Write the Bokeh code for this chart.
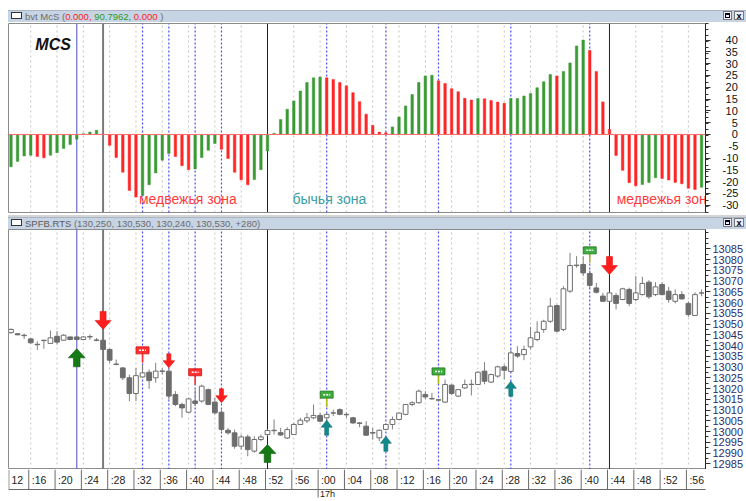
from bokeh.plotting import figure
from bokeh.layouts import column
from bokeh.models import Range1d, LinearAxis, FixedTicker, Span, Div
from bokeh.core.properties import value
from bokeh.embed import file_html
from bokeh.resources import INLINE

# ---------------- data ----------------
# MCS histogram, one value per 1-minute bar (bar 0 = 16:13)
mcs = [
    -13.7, -11.4, -9.1, -8.8, -9.3, -9.9, -8.8, -7.7, -5.9, -4.3,
    -2.0, 0.3, 1.0, 1.8, 0.0, -4.6, -9.8, -16.0, -23.7, -26.5,
    -25.8, -21.3, -16.3, -10.9, -8.1, -9.3, -13.2, -14.9, -14.6, -9.8,
    -6.7, -3.8, -6.3, -10.2, -16.0, -19.2, -21.3, -19.1, -14.9, -7.0,
    0.5, 6.3, 10.7, 14.2, 18.4, 22.0, 24.0, 24.3, 24.0, 23.3,
    22.0, 20.6, 17.7, 13.9, 8.6, 3.9, 1.0, 0.7, 3.2, 7.4,
    12.1, 16.9, 22.0, 24.8, 25.1, 22.7, 21.6, 19.4, 18.1, 15.3,
    14.6, 15.2, 15.1, 14.4, 13.7, 13.2, 15.2, 15.2, 16.3, 17.4,
    19.8, 22.3, 25.4, 24.8, 26.7, 30.3, 37.5, 40.0, 35.6, 26.7,
    13.8, 2.1, -8.9, -15.2, -20.4, -21.7, -21.2, -20.3, -18.3, -18.7,
    -19.3, -20.3, -20.9, -22.8, -23.3, -22.4,
]

# SPFB.RTS 1-minute candles
opens = [
    13046.0, 13045.5, 13044.8, 13043.1, 13040.6, 13042.3, 13041.0, 13044.3, 13042.5, 13044.0,
    13044.0, 13042.8, 13044.2, 13042.6, 13042.5, 13038.2, 13031.4, 13029.6, 13025.0, 13017.7,
    13025.4, 13027.6, 13025.0, 13028.2, 13028.1, 13017.2, 13012.6, 13009.0, 13014.2, 13014.2,
    13019.5, 13013.7, 13009.0, 13000.6, 12999.4, 12993.2, 12997.5, 12990.9, 12996.3, 12998.6,
    13000.6, 12999.5, 12997.0, 12998.6, 13003.3, 13005.0, 13006.4, 13007.5, 13006.4, 13008.7,
    13010.2, 13008.0, 13006.4, 13004.0, 13002.5, 12999.5, 12997.1, 13001.0, 13003.3, 13005.6,
    13008.0, 13012.6, 13013.4, 13017.2, 13015.4, 13014.8, 13013.7, 13021.6, 13016.5, 13020.3,
    13022.0, 13021.9, 13028.1, 13023.0, 13025.8, 13030.1, 13028.0, 13036.3, 13035.8, 13039.4,
    13042.8, 13047.5, 13051.3, 13058.6, 13047.5, 13065.3, 13077.4, 13077.7, 13073.5, 13066.8,
    13063.0, 13060.6, 13063.3, 13061.4, 13066.1, 13061.4, 13063.7, 13069.5, 13063.7, 13068.4,
    13065.3, 13060.6, 13063.7, 13059.6, 13054.0, 13064.5,
]
highs = [
    13048.0, 13045.8, 13045.6, 13043.6, 13042.0, 13042.6, 13047.0, 13046.7, 13045.3, 13044.3,
    13044.3, 13044.3, 13045.2, 13043.5, 13043.2, 13038.6, 13033.5, 13030.0, 13026.5, 13029.6,
    13031.0, 13028.9, 13032.0, 13029.6, 13029.0, 13018.8, 13013.4, 13015.7, 13019.5, 13021.9,
    13020.0, 13015.7, 13010.2, 13001.7, 13000.9, 12998.6, 12998.6, 12997.8, 12998.6, 13001.0,
    13005.6, 13001.7, 13002.0, 13004.1, 13006.4, 13008.7, 13012.6, 13008.7, 13008.5, 13010.2,
    13010.8, 13009.0, 13006.8, 13004.4, 13004.8, 13001.8, 13001.0, 13003.6, 13007.0, 13008.9,
    13012.8, 13014.1, 13019.5, 13018.8, 13018.0, 13015.2, 13024.2, 13022.0, 13019.8, 13024.2,
    13024.2, 13028.0, 13032.3, 13027.0, 13030.7, 13031.2, 13038.2, 13039.7, 13040.0, 13048.7,
    13051.3, 13052.0, 13062.2, 13059.1, 13067.6, 13083.1, 13081.6, 13081.6, 13075.0, 13069.1,
    13064.5, 13065.0, 13064.5, 13066.9, 13066.9, 13072.3, 13072.0, 13070.4, 13069.5, 13069.5,
    13067.3, 13066.1, 13065.3, 13060.6, 13064.8, 13066.1,
]
lows = [
    13045.5, 13044.8, 13043.0, 13040.8, 13038.0, 13038.5, 13040.8, 13040.5, 13042.2, 13042.5,
    13042.5, 13042.5, 13042.6, 13042.0, 13038.0, 13032.0, 13030.8, 13023.9, 13014.1, 13014.1,
    13025.0, 13019.9, 13022.7, 13026.5, 13015.0, 13011.8, 13006.4, 13008.7, 13011.8, 13013.4,
    13012.3, 13007.9, 13000.2, 12998.6, 12992.0, 12991.6, 12988.5, 12990.1, 12995.5, 12998.0,
    12998.6, 12998.0, 12996.5, 12998.4, 13003.0, 13004.0, 13005.8, 13004.4, 13005.0, 13007.2,
    13007.6, 13006.4, 13003.6, 13002.0, 12998.0, 12996.3, 12995.5, 13000.6, 13001.0, 13005.2,
    13007.6, 13011.8, 13013.0, 13015.0, 13014.7, 13014.0, 13013.3, 13017.0, 13016.0, 13019.8,
    13016.8, 13021.6, 13022.0, 13022.5, 13025.0, 13024.2, 13027.5, 13034.3, 13033.2, 13038.2,
    13042.0, 13045.9, 13050.5, 13046.2, 13046.7, 13064.5, 13076.2, 13072.3, 13066.8, 13064.2,
    13060.2, 13060.2, 13056.8, 13061.1, 13058.3, 13060.6, 13063.3, 13061.7, 13063.0, 13063.3,
    13059.9, 13059.6, 13061.4, 13053.4, 13053.7, 13062.9,
]
closes = [
    13047.5, 13045.0, 13044.6, 13041.3, 13040.4, 13042.5, 13043.6, 13041.6, 13044.8, 13042.8,
    13042.8, 13044.0, 13044.0, 13042.4, 13038.2, 13033.2, 13031.2, 13025.0, 13017.7, 13026.0,
    13027.3, 13023.7, 13028.1, 13028.0, 13016.5, 13012.6, 13011.0, 13015.2, 13013.1, 13021.1,
    13012.6, 13008.7, 13001.0, 12999.4, 12993.2, 12997.5, 12991.6, 12996.3, 12997.5, 13000.5,
    13000.4, 12998.4, 13000.9, 13003.3, 13005.3, 13006.4, 13007.5, 13004.8, 13008.0, 13008.6,
    13008.0, 13007.8, 13004.0, 13003.8, 12998.3, 12999.3, 13000.6, 13003.3, 13005.6, 13008.6,
    13012.6, 13013.4, 13018.8, 13016.1, 13015.2, 13014.6, 13021.9, 13017.7, 13019.5, 13021.9,
    13021.9, 13027.6, 13023.4, 13026.5, 13030.1, 13028.5, 13036.6, 13035.1, 13038.2, 13043.6,
    13046.2, 13051.3, 13058.3, 13046.7, 13066.4, 13077.2, 13077.2, 13073.8, 13068.0, 13064.8,
    13060.6, 13064.5, 13059.6, 13066.4, 13059.6, 13064.5, 13068.9, 13062.7, 13067.3, 13063.7,
    13061.4, 13063.7, 13061.7, 13054.4, 13063.7, 13064.4,
]

# time axis: "12" = 16:12 lies one bar before bar 0, then every 4 minutes
tick_labels = ["12", ":16", ":20", ":24", ":28", ":32", ":36", ":40", ":44", ":48", ":52", ":56",
               ":00", ":04", ":08", ":12", ":16", ":20", ":24", ":28", ":32", ":36", ":40", ":44",
               ":48", ":52", ":56"]
tick_bars = [-1 + 4 * k for k in range(len(tick_labels))]
hour_label = "17h"
hour_tick_index = 12  # ":00"

# marker / line bars
blue_solid_bars = [10]
gray_solid_bars = [14]
black_solid_bars = [39, 91]
blue_dashed_bars = [20, 24, 28, 32, 48, 57, 65, 76, 88]

big_up_bars, big_up_tips = [10, 39], [13038.5, 12994.0]
big_down_bars, big_down_tips = [14, 91], [13047.5, 13073.0]
small_down_bars, small_down_tips = [24, 32], [13029.7, 13013.4]
teal_up_bars, teal_up_tips = [48, 57, 76], [13005.3, 12997.8, 13023.4]
red_flag_bars, red_flag_tops = [20, 28], [13039.4, 13029.2]
green_flag_bars, green_flag_tops = [48, 65, 88], [13018.8, 13029.6, 13085.9]

mcs_ticks = list(range(-30, 41, 5))
price_ticks = list(range(12985, 13086, 5))

zone_texts = ["медвежья зона", "бычья зона", "медвежья зона"]
zone_x = [19.45, 42.8, 92.1]
zone_colors = ["#ff3c3c", "#3a9ea5", "#ff3c3c"]

# ---------------- layout constants ----------------
W = 738
RB = 38
X0, X1 = -0.38, 105.6
Y1_0, Y1_1 = -33.05, 47.0
Y2_0, Y2_1 = 12982.35, 13093.98
P1H, P2H, P3H = 191, 240, 29
PXB = (W - RB) / (X1 - X0)
PYU = P2H / (Y2_1 - Y2_0)
FONT = "Liberation Sans"
FIG_SP, PUNC_SP = "\u2007", "\u2008"


def header(inner, top_band=0):
    band = f'border-top:{top_band}px solid #d4d4d4;' if top_band else ''
    return (
        f'<div style="{band}width:738px;box-sizing:content-box;">'
        '<div style="position:relative;width:738px;height:12px;background:#c7d4e4;'
        'border-top:1px solid #aab6c6;box-sizing:border-box;font-family:\'Liberation Sans\';'
        'font-size:9.5px;line-height:11px;color:#6c6c6c;white-space:nowrap;overflow:hidden;">'
        '<span style="display:inline-block;width:11px;height:7px;border:1px solid #333;'
        'background:#fff;margin:1px 3px 0 3px;vertical-align:top;"></span>'
        + inner +
        '<span style="position:absolute;right:14px;top:0px;width:9px;height:9px;'
        'border:1px solid #777;background:#eef;box-sizing:border-box;">'
        '<span style="position:absolute;left:1px;top:1px;width:5px;height:5px;border:1px solid #000;'
        'border-top-width:2px;box-sizing:border-box;"></span></span>'
        '<span style="position:absolute;right:2px;top:0px;width:10px;height:9px;border:1px solid #777;'
        'background:#eef;box-sizing:border-box;font-size:9px;line-height:8px;text-align:center;'
        'color:#000;font-weight:bold;">x</span></div></div>'
    )


def base_fig(height, y0, y1):
    p = figure(width=W, height=height, x_range=Range1d(X0, X1), y_range=Range1d(y0, y1),
               output_backend="svg", toolbar_location=None,
               x_axis_location=None, y_axis_location=None,
               min_border_left=0, min_border_right=RB, min_border_top=0, min_border_bottom=0,
               background_fill_color="white", border_fill_color="white")
    p.outline_line_color = "#8c8c8c"
    p.grid.visible = False
    return p


def vlines(p, y0, y1):
    grid = [b for b in tick_bars if b > X0]
    p.segment(x0=grid, x1=grid, y0=y0, y1=y1, line_color="#c4c4c4", line_dash="2 3", line_width=1)
    p.segment(x0=blue_dashed_bars, x1=blue_dashed_bars, y0=y0, y1=y1,
              line_color="#4b4bff", line_dash="2 2", line_width=1.2)
    p.segment(x0=blue_solid_bars, x1=blue_solid_bars, y0=y0, y1=y1, line_color="#6a6ad0", line_width=1.2)
    p.segment(x0=gray_solid_bars, x1=gray_solid_bars, y0=y0, y1=y1, line_color="#7a7a7a", line_width=2)
    p.segment(x0=black_solid_bars, x1=black_solid_bars, y0=y0, y1=y1, line_color="#202020", line_width=1)


def right_axis(p, ticks, minor, color, standoff, overrides=None):
    ax = LinearAxis(ticker=FixedTicker(ticks=ticks, minor_ticks=minor))
    ax.axis_line_color = "#222222"
    ax.major_tick_out = 5
    ax.major_tick_in = 0
    ax.minor_tick_out = 3
    ax.minor_tick_in = 0
    ax.major_tick_line_color = "#333333"
    ax.minor_tick_line_color = "#333333"
    ax.major_label_text_font = FONT
    ax.major_label_text_font_size = "11px"
    ax.major_label_text_color = color
    ax.major_label_standoff = standoff
    if overrides:
        ax.major_label_overrides = overrides
    p.add_layout(ax, "right")


def right_pad(t):
    # pad to the width of "-30" so that the labels line up on the right, as in the reference
    s = str(t)
    digits = len(s.lstrip("-"))
    pad = FIG_SP * (2 - digits) + ("" if t < 0 else PUNC_SP)
    return pad + s


# ---------------- top panel: MCS ----------------
hdr1 = Div(text=header('bvt McS (<span style="color:#ff2020">0.000,</span> '
                       '<span style="color:#2a9a2a">90.7962,</span> '
                       '<span style="color:#ff2020">0.000</span> )'),
           width=W, height=12, margin=(0, 0, 0, 0))

p1 = base_fig(P1H, Y1_0, Y1_1)
p1.min_border_top = 1
p1.min_border_bottom = 1
vlines(p1, Y1_0, Y1_1)
idx = list(range(len(mcs)))
hist_colors = ["#3a9a34" if (k == 0 or v >= mcs[k - 1]) else "#ff2626" for k, v in enumerate(mcs)]
p1.vbar(x=idx, top=mcs, bottom=0, width=0.38, fill_color=hist_colors, line_color=hist_colors, line_width=0.5)
p1.add_layout(Span(location=0, dimension="width", line_color="#ff6a6a", line_width=1))
p1.text(x=[3.7], y=[38.1], text=["MCS"], text_font=value(FONT), text_font_style="bold italic",
        text_font_size="16px", text_color="#111111", text_baseline="middle")
p1.text(x=zone_x, y=[-27.5] * 3, text=zone_texts, text_font=value(FONT), text_font_size="14px",
        text_color=zone_colors, text_baseline="middle")
minor1 = [t / 2 for t in range(-66, 95, 5)]
right_axis(p1, mcs_ticks, minor1, "#111111", 12, overrides={t: right_pad(t) for t in mcs_ticks})

# ---------------- bottom panel: candles ----------------
hdr2 = Div(text=header('<span style="color:#5a5a5a">SPFB.RTS</span> (130,250, 130,530, 130,240, 130,530, +280)',
                       top_band=2),
           width=W, height=14, margin=(2, 0, 0, 0))

p2 = base_fig(P2H, Y2_0, Y2_1)
vlines(p2, Y2_0, Y2_1)
cidx = list(range(len(opens)))
tops = [max(o, c) for o, c in zip(opens, closes)]
bots = [min(o, c) for o, c in zip(opens, closes)]
fills = ["#ffffff" if c >= o else "#6c6c6c" for o, c in zip(opens, closes)]
p2.segment(x0=cidx, x1=cidx, y0=lows, y1=highs, line_color="#808080", line_width=1)
p2.vbar(x=cidx, top=tops, bottom=bots, width=0.72, fill_color=fills, line_color="#6e6e6e", line_width=1)


def arrow_shapes(bars, tips, H, hh, hw, sw, up):
    s = 1 if up else -1
    pts = [(0, 0), (hw, -hh), (sw, -hh), (sw, -H), (-sw, -H), (-sw, -hh), (-hw, -hh)]
    xs, ys = [], []
    for b, t in zip(bars, tips):
        xs.append([b + px / PXB for px, py in pts])
        ys.append([t + s * py / PYU for px, py in pts])
    return xs, ys


for bars, tips, H, hh, hw, sw, up, col, edge in [
    (big_up_bars, big_up_tips, 18, 9, 8.5, 3.3, True, "#157a15", "#0d5a0d"),
    (big_down_bars, big_down_tips, 18, 9, 8.0, 3.0, False, "#ff1e1e", "#e01010"),
    (small_down_bars, small_down_tips, 14, 7, 5.8, 2.0, False, "#ff1e1e", "#e01010"),
    (teal_up_bars, teal_up_tips, 15, 7, 5.5, 2.0, True, "#128a8c", "#0c6d70"),
]:
    xs, ys = arrow_shapes(bars, tips, H, hh, hw, sw, up)
    p2.patches(xs=xs, ys=ys, fill_color=col, line_color=edge, line_width=0.6)


def flags(bars, topv, fill, edge, stem):
    fw, fh, sh = 6.5, 7, 16
    p2.segment(x0=bars, x1=bars, y0=[t - fh / PYU for t in topv], y1=[t - sh / PYU for t in topv],
               line_color=stem, line_width=1.6)
    p2.quad(left=[b - fw / PXB for b in bars], right=[b + fw / PXB for b in bars],
            top=topv, bottom=[t - fh / PYU for t in topv], fill_color=fill, line_color=edge, line_width=0.8)
    p2.segment(x0=[b - 3.5 / PXB for b in bars], x1=[b + 3.5 / PXB for b in bars],
               y0=[t - 3.5 / PYU for t in topv], y1=[t - 3.5 / PYU for t in topv],
               line_color="#ffffff", line_width=1.5, line_dash="2 1")


flags(red_flag_bars, red_flag_tops, "#ff3030", "#d01010", "#ff3030")
flags(green_flag_bars, green_flag_tops, "#3fae3f", "#1d6e1d", "#b4b81c")

minor2 = [12980 + 2.5 * k for k in range(46)]
right_axis(p2, price_ticks, minor2, "#2d2d6a", 2)

# ---------------- time axis row ----------------
p3 = figure(width=W, height=P3H, x_range=p2.x_range, y_range=Range1d(0, P3H),
            output_backend="svg", toolbar_location=None, x_axis_location=None, y_axis_location=None,
            min_border_left=0, min_border_right=RB, min_border_top=0, min_border_bottom=0,
            outline_line_color=None, border_fill_color="white")
p3.grid.visible = False
borders = [b - 0.3 for b in tick_bars]
p3.segment(x0=borders, x1=borders, y0=9, y1=P3H, line_color="#6a6a6a", line_width=1)
p3.segment(x0=[X0], x1=[borders[-1] + 4], y0=9, y1=9, line_color="#6a6a6a", line_width=1)
p3.segment(x0=[X0 + 0.05], x1=[X0 + 0.05], y0=9, y1=P3H, line_color="#6a6a6a", line_width=1)
p3.text(x=[max(b, X0) + 0.45 for b in borders], y=[19] * len(borders), text=tick_labels,
        text_font=value(FONT), text_font_size="10.5px", text_color="#222222", text_baseline="middle")
hb = borders[hour_tick_index]
p3.segment(x0=[hb], x1=[hb], y0=1, y1=9, line_color="#6a6a6a", line_width=1)
p3.text(x=[hb + 0.3], y=[4.6], text=[hour_label], text_font=value(FONT), text_font_size="9px",
        text_color="#222222", text_baseline="middle")

layout = column(hdr1, p1, hdr2, p2, p3, spacing=0, margin=(10, 0, 0, 8))
open("out.html", "w").write(file_html(layout, INLINE))
